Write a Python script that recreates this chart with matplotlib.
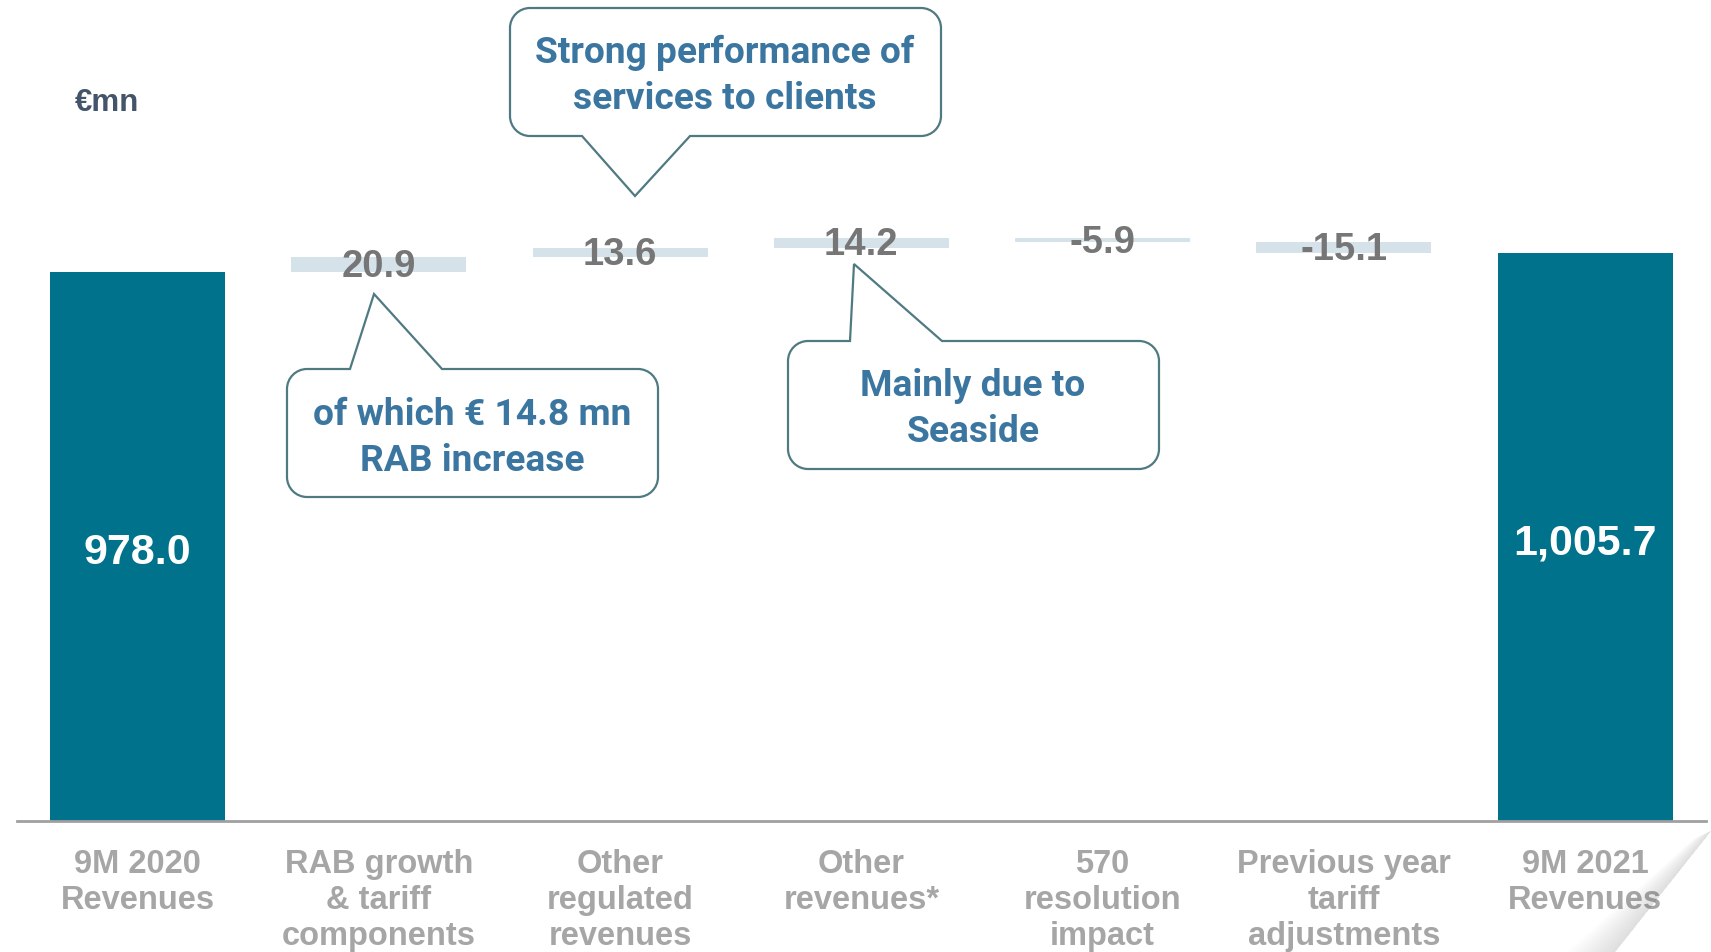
import numpy as np
import matplotlib.pyplot as plt
from matplotlib.path import Path
from matplotlib.patches import PathPatch, Polygon

# waterfall data, € millions
categories = ["9M 2020\nRevenues", "RAB growth\n& tariff\ncomponents",
              "Other\nregulated\nrevenues", "Other\nrevenues*",
              "570\nresolution\nimpact", "Previous year\ntariff\nadjustments",
              "9M 2021\nRevenues"]
start_total = 978.0
deltas = [20.9, 13.6, 14.2, -5.9, -15.1]
end_total = 1005.7

notes = ["Strong performance of\nservices to clients",
         "of which € 14.8 mn\nRAB increase",
         "Mainly due to\nSeaside"]

TEAL = "#00728C"
FLOAT = "#D6E2EA"
VALUE_GREY = "#767676"
CAT_GREY = "#A6A6A6"
NOTE_BLUE = "#3B76A1"
NOTE_EDGE = "#4F7A82"

W, H = 1711, 953
fig = plt.figure(figsize=(W / 100, H / 100), dpi=100)


def px(x, y):
    # pixel position (from top-left) -> figure fraction
    return x / W, 1 - y / H


ax = fig.add_axes([16.85 / W, 131 / H, 1689 / W, 822 / H])
ymin = 177
ax.set_xlim(-0.5, 6.5)
ax.set_ylim(ymin, ymin + 822 / 0.686)

x = np.arange(len(categories))
cum = start_total + np.cumsum(deltas)
bottoms = np.concatenate([[start_total], cum[:-1]])
width = 0.725

ax.bar([0, 6], [start_total, end_total], width=width, color=TEAL)
ax.bar(x[1:6], deltas, bottom=bottoms, width=width, color=FLOAT)

for xi, total in zip([0, 6], [start_total, end_total]):
    ax.annotate(f"{total:,.1f}", (xi, (ymin + total) / 2), xytext=(0, -4),
                textcoords="offset points", ha="center", va="center",
                color="white", fontsize=31, fontweight="bold", family="Liberation Sans")

for xi, d, b in zip(x[1:6], deltas, bottoms):
    ax.annotate(f"{d:.1f}", (xi, b + d / 2), xytext=(0, -1),
                textcoords="offset points", ha="center", va="center",
                color=VALUE_GREY, fontsize=27.5, fontweight="bold", family="Liberation Sans")

for s in ["top", "right", "left"]:
    ax.spines[s].set_visible(False)
ax.spines["bottom"].set_color("#A0A0A0")
ax.spines["bottom"].set_linewidth(2)
ax.set_yticks([])
ax.set_xticks(x)
ax.set_xticklabels(categories, fontsize=23.5, fontweight="bold", color=CAT_GREY,
                   family="Liberation Sans", linespacing=1.2)
ax.tick_params(axis="x", length=0, pad=19.5)

fig.text(*px(75, 103), "€mn", fontsize=22.5, fontweight="bold", color="#44546A",
         family="Liberation Sans", ha="left", va="center")


def callout(x0, y0, x1, y1, r, edge, a, b, tip):
    k = 0.5523 * r
    verts, codes = [], []

    def line(p, code=Path.LINETO):
        verts.append(p)
        codes.append(code)

    def curve(c1, c2, p):
        verts.extend([c1, c2, p])
        codes.extend([Path.CURVE4] * 3)

    line((x0 + r, y0), Path.MOVETO)
    if edge == "top":
        line((a, y0)); line(tip); line((b, y0))
    line((x1 - r, y0))
    curve((x1 - r + k, y0), (x1, y0 + r - k), (x1, y0 + r))
    line((x1, y1 - r))
    curve((x1, y1 - r + k), (x1 - r + k, y1), (x1 - r, y1))
    if edge == "bottom":
        line((b, y1)); line(tip); line((a, y1))
    line((x0 + r, y1))
    curve((x0 + r - k, y1), (x0, y1 - r + k), (x0, y1 - r))
    line((x0, y0 + r))
    curve((x0, y0 + r - k), (x0 + r - k, y0), (x0 + r, y0))
    line((x0 + r, y0), Path.CLOSEPOLY)
    path = Path([px(*v) for v in verts], codes)
    fig.patches.append(PathPatch(path, transform=fig.transFigure, facecolor="white",
                                 edgecolor=NOTE_EDGE, lw=1.6, zorder=3))


callout(510, 9, 941, 137, 20, "bottom", 582, 690, (635, 197))
callout(287, 370, 658, 498, 20, "top", 350, 442, (374, 295))
callout(788, 342, 1159, 470, 20, "top", 850, 942, (854, 265))

for (cx, cy), note in zip([(725, 76), (472, 438), (973, 409)], notes):
    fig.text(*px(cx, cy), note, ha="center", va="center", fontsize=26.7,
             fontweight="bold", color=NOTE_BLUE, family="Roboto",
             linespacing=1.33, zorder=4)

# curled page corner shadow, bottom right
p_top, p_bot = np.array([1711, 832]), np.array([1615, 953])
for i in range(16):
    d = 3 * (i + 1)
    shade = Polygon([px(*p_top), px(*p_bot), px(*(p_bot - [d, 0])), px(*(p_top - [d * 0.4, -d * 0.2]))],
                    closed=True, transform=fig.transFigure, facecolor="#808080",
                    edgecolor="none", alpha=0.014, zorder=5)
    fig.patches.append(shade)

fig.savefig("out.png", dpi=100)
